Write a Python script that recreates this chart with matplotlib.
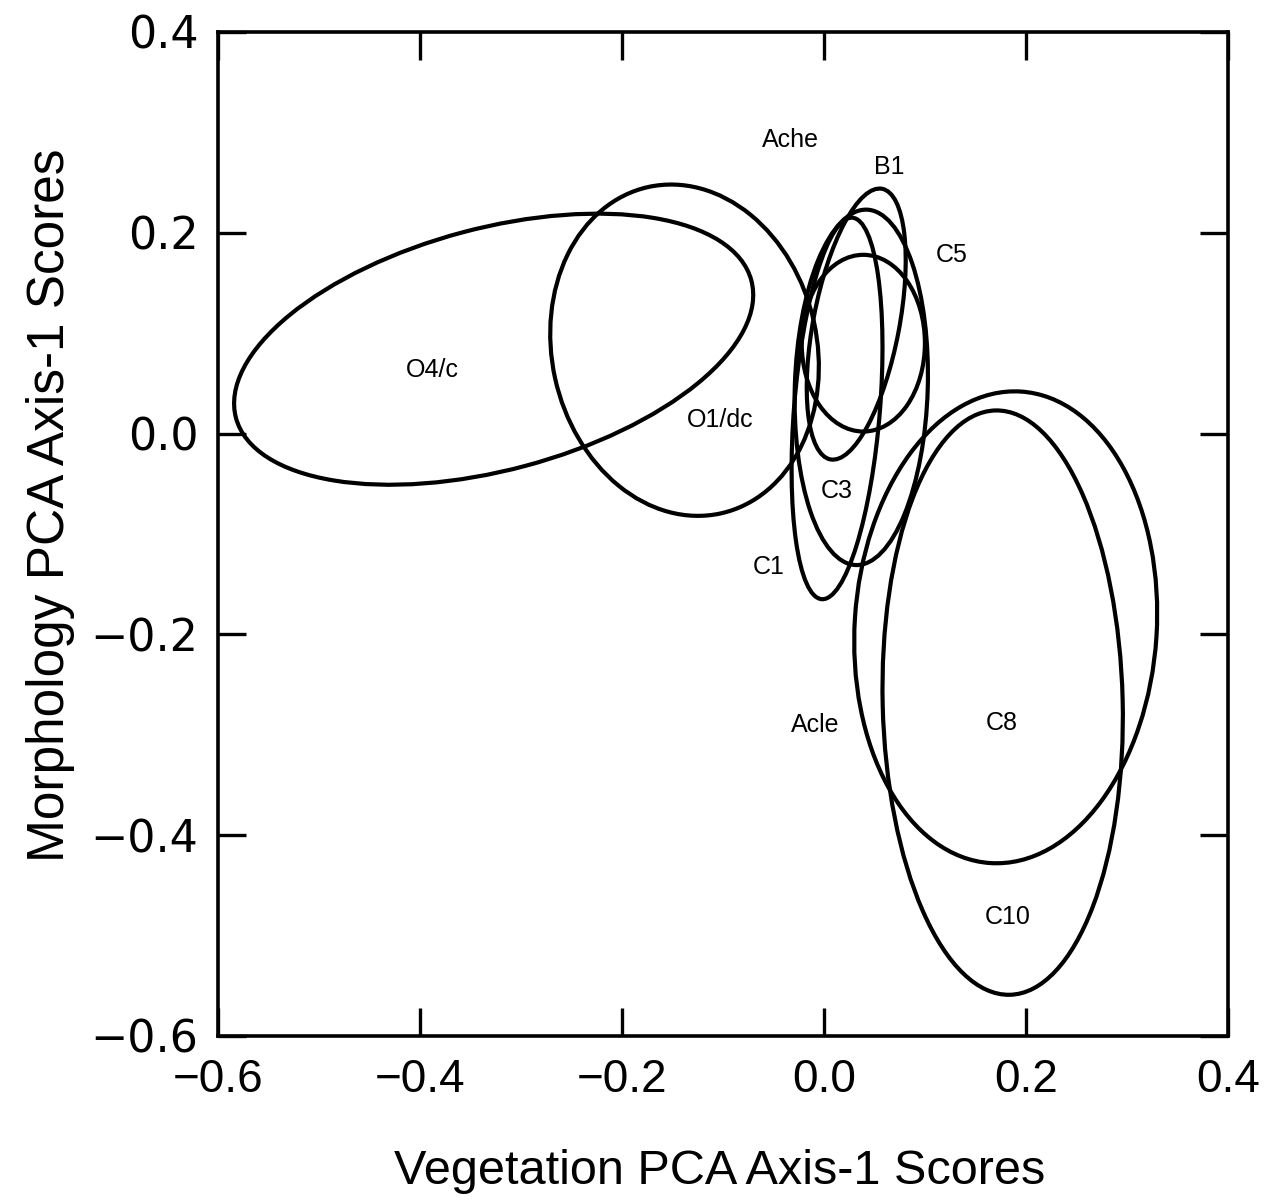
import numpy as np
import matplotlib
matplotlib.use("Agg")
import matplotlib.pyplot as plt
from matplotlib.patches import Ellipse

# ---- data: group ellipses (centre, spread along x / y, correlation) ----
groups = ["O4/c", "O1/dc", "B1", "C5", "C1", "C3", "C8", "C10"]
center_x = [-0.327, -0.138, 0.032, 0.037, 0.013, 0.039, 0.180, 0.177]
center_y = [0.084, 0.083, 0.109, 0.046, 0.025, 0.090, -0.193, -0.268]
spread_x = [0.257, 0.133, 0.049, 0.066, 0.045, 0.061, 0.150, 0.119]
spread_y = [0.135, 0.165, 0.135, 0.177, 0.190, 0.088, 0.235, 0.291]
corr = [0.40, -0.10, 0.47, 0.07, 0.32, 0.0, 0.06, -0.05]

# ---- data: label positions ----
label_text = ["Ache", "B1", "C5", "O4/c", "O1/dc", "C3", "C1", "Acle", "C8", "C10"]
label_x = [-0.033, 0.065, 0.127, -0.388, -0.103, 0.013, -0.055, -0.009, 0.176, 0.182]
label_y = [0.292, 0.265, 0.178, 0.063, 0.013, -0.057, -0.133, -0.290, -0.288, -0.482]

x_ticks = [-0.6, -0.4, -0.2, 0.0, 0.2, 0.4]
y_ticks = [-0.6, -0.4, -0.2, 0.0, 0.2, 0.4]
x_title = "Vegetation PCA Axis-1 Scores"
y_title = "Morphology PCA Axis-1 Scores"

narrow = ["Liberation Sans Narrow", "Liberation Sans", "DejaVu Sans"]
regular = ["Liberation Sans", "DejaVu Sans"]
wide = ["DejaVu Sans"]

fig = plt.figure(figsize=(12.76, 12.0), dpi=100)
ax = fig.add_axes([0.1708, 0.1367, 0.7915, 0.8367])

for cx, cy, sx, sy, r in zip(center_x, center_y, spread_x, spread_y, corr):
    cov = np.array([[sx * sx, r * sx * sy], [r * sx * sy, sy * sy]])
    vals, vecs = np.linalg.eigh(cov)
    order = np.argsort(vals)[::-1]
    vals, vecs = vals[order], vecs[:, order]
    angle = np.degrees(np.arctan2(vecs[1, 0], vecs[0, 0]))
    e = Ellipse((cx, cy), 2 * np.sqrt(vals[0]), 2 * np.sqrt(vals[1]), angle=angle,
                fill=False, edgecolor="black", linewidth=3.0)
    ax.add_patch(e)

for t, lx, ly in zip(label_text, label_x, label_y):
    ax.text(lx, ly, t, ha="center", va="center", fontsize=18, family=regular)

ax.set_xlim(-0.6, 0.4)
ax.set_ylim(-0.6, 0.4)
ax.set_xticks(x_ticks)
ax.set_yticks(y_ticks)
ax.set_xticklabels([f"{v:.1f}".replace("-", "\u2212") for v in x_ticks], family=narrow, fontsize=33)
ax.set_yticklabels([f"{v:.1f}".replace("-", "\u2212") for v in y_ticks], family=wide, fontsize=32)
ax.tick_params(axis="both", direction="in", length=20, width=2.4, top=True, right=True)
ax.tick_params(axis="x", pad=16)
ax.tick_params(axis="y", pad=14)
for s in ax.spines.values():
    s.set_linewidth(2.6)

ax.set_xlabel(x_title, family=narrow, fontsize=35)
ax.xaxis.set_label_coords(0.497, -0.135)
ax.xaxis.label.set_va("center")
ax.set_ylabel(y_title, family=narrow, fontsize=37)
ax.yaxis.set_label_coords(-0.166, 0.529)
ax.yaxis.label.set_va("center")

fig.savefig("out.png", dpi=100, facecolor="white")
